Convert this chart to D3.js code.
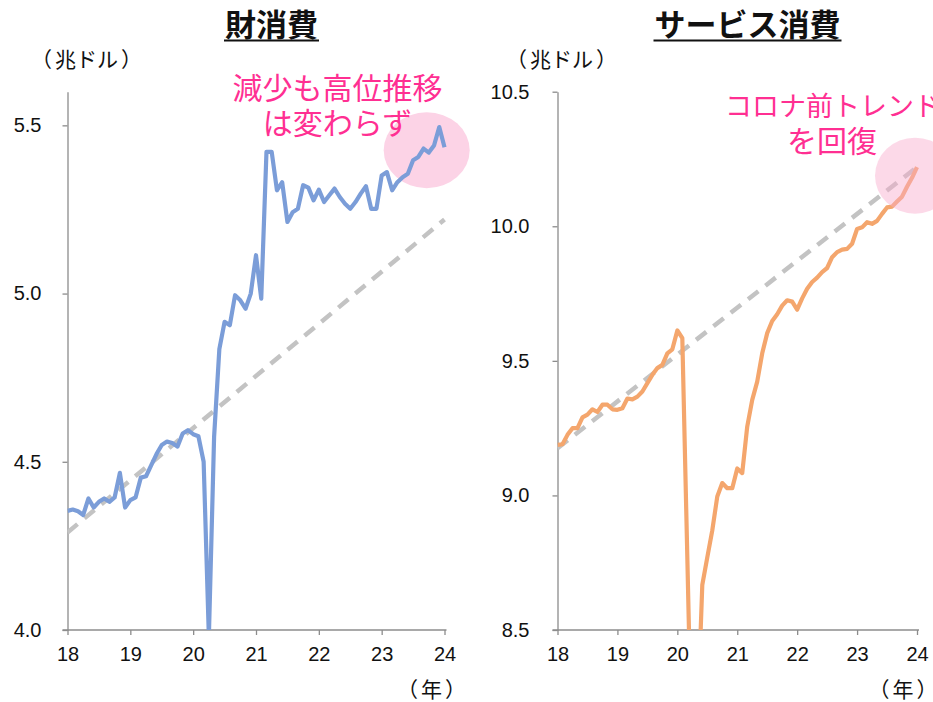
<!DOCTYPE html>
<html lang="ja">
<head>
<meta charset="utf-8">
<script src="https://cdn.jsdelivr.net/npm/d3@7"></script>
<style>
  body { margin: 0; background: #fff; }
  svg { display: block; }
  .jp { font-family: "Noto Sans CJK JP", sans-serif; }
  .num { font-family: "Liberation Sans", Arial, sans-serif; }
</style>
</head>
<body>
<svg id="chart" width="933" height="702" lang="ja"></svg>
<script>
// monthly, Jan 2018 .. Jan 2024 (trillion dollars)
const yearLabels = ["18", "19", "20", "21", "22", "23", "24"];

const goodsValues = [
  4.354, 4.358, 4.353, 4.342, 4.391, 4.364, 4.381, 4.391, 4.381, 4.394, 4.467, 4.364,
  4.386, 4.394, 4.453, 4.457, 4.490, 4.523, 4.550, 4.560, 4.556, 4.545, 4.584, 4.594,
  4.582, 4.576, 4.500, 3.980, 4.575, 4.835, 4.916, 4.906, 4.995, 4.980, 4.955, 5.000,
  5.114, 4.985, 5.421, 5.421, 5.307, 5.331, 5.213, 5.242, 5.252, 5.322, 5.315, 5.277,
  5.309, 5.272, 5.292, 5.312, 5.287, 5.267, 5.252, 5.272, 5.297, 5.319, 5.252, 5.252,
  5.351, 5.361, 5.307, 5.331, 5.346, 5.356, 5.396, 5.406, 5.431, 5.419, 5.440, 5.495,
  5.435
];
const goodsTrend = [4.29, 5.22];   // pre-covid trend, start / end
const goodsTicks = [4.0, 4.5, 5.0, 5.5];

const servicesValues = [
  9.188, 9.190, 9.225, 9.250, 9.250, 9.290, 9.300, 9.320, 9.310, 9.337, 9.337, 9.320,
  9.318, 9.324, 9.360, 9.357, 9.367, 9.386, 9.417, 9.448, 9.473, 9.485, 9.528, 9.543,
  9.613, 9.584, 8.770, 7.950, 8.150, 8.668, 8.770, 8.870, 8.996, 9.046, 9.027, 9.027,
  9.100, 9.083, 9.256, 9.355, 9.423, 9.528, 9.603, 9.648, 9.673, 9.705, 9.725, 9.720,
  9.690, 9.732, 9.768, 9.793, 9.809, 9.830, 9.845, 9.885, 9.904, 9.913, 9.916, 9.935,
  9.990, 9.996, 10.015, 10.009, 10.020, 10.046, 10.070, 10.073, 10.092, 10.110, 10.147, 10.180,
  10.220
];
const servicesTrend = [9.175, 10.22];
const servicesTicks = [8.5, 9.0, 9.5, 10.0, 10.5];

const svg = d3.select("#chart");
const pink = "#ff2f92";

// bracketed label: opening / body / closing, with a little extra room round the brackets
function bracketText(x, y, size, body, gap) {
  const t = svg.append("text").attr("class", "jp")
     .attr("x", x).attr("y", y).attr("text-anchor", "middle")
     .attr("font-size", size).attr("fill", "#111");
  t.append("tspan").text("（");
  t.append("tspan").attr("dx", gap).text(body);
  t.append("tspan").attr("dx", gap).text("）");
}

function drawPanel(p) {
  const x = d3.scaleLinear().domain([0, 72]).range(p.xRange);
  const y = d3.scaleLinear().domain(p.yDomain).range([630, 91.7]);
  const g = svg.append("g");

  // clip to plot area
  const clipId = "clip-" + p.id;
  svg.append("clipPath").attr("id", clipId)
     .append("rect")
     .attr("x", p.xRange[0]).attr("y", y(p.yDomain[1]) - 10)
     .attr("width", p.xRange[1] - p.xRange[0] + 10)
     .attr("height", y(p.yDomain[0]) - y(p.yDomain[1]) + 10);

  const underLayer = g.append("g");

  // x axis
  const xAxis = g.append("g").attr("transform", "translate(0,630)")
      .call(d3.axisBottom(x).tickValues(d3.range(0, 73, 12))
              .tickFormat((d, i) => yearLabels[i])
              .tickSize(5).tickSizeOuter(0).tickPadding(12));
  xAxis.select(".domain").remove();
  xAxis.append("line")
      .attr("x1", x(0) - 5).attr("x2", x(72) + 2)
      .attr("stroke", "#8c8c8c").attr("stroke-width", 1.3);
  xAxis.selectAll(".tick line").attr("stroke", "#8c8c8c").attr("stroke-width", 1.3);
  xAxis.selectAll(".tick text").attr("class", "num").attr("font-size", 20).attr("fill", "#111");

  // y axis
  const yAxis = g.append("g").attr("transform", `translate(${x(0)},0)`)
      .call(d3.axisLeft(y).tickValues(p.yTicks).tickFormat(d3.format(".1f"))
              .tickSize(5).tickSizeOuter(0).tickPadding(p.yPad));
  yAxis.select(".domain").attr("stroke", "#8c8c8c").attr("stroke-width", 1.3);
  yAxis.selectAll(".tick line").attr("stroke", "#8c8c8c").attr("stroke-width", 1.3);
  yAxis.selectAll(".tick text").attr("class", "num").attr("font-size", 20).attr("fill", "#111");

  const plot = g.append("g").attr("clip-path", `url(#${clipId})`);

  // trend (dashed)
  plot.append("path")
      .datum(p.trend)
      .attr("fill", "none")
      .attr("stroke", "#c3c3c3")
      .attr("stroke-width", 4.5)
      .attr("stroke-dasharray", "13,9")
      .attr("d", d3.line().x((d, i) => x(i * 72)).y(d => y(d)));

  // series
  plot.append("path")
      .datum(p.values)
      .attr("fill", "none")
      .attr("stroke", p.color)
      .attr("stroke-width", 4.2)
      .attr("stroke-linejoin", "round")
      .attr("d", d3.line().x((d, i) => x(i)).y(d => y(d)));

  // highlight circle
  (p.circleOnTop ? g : underLayer).append("ellipse")
     .attr("cx", x(p.circle[0])).attr("cy", y(p.circle[1]))
     .attr("rx", p.circle[2]).attr("ry", p.circle[3])
     .attr("fill", p.circleOnTop ? "rgba(248,170,205,0.45)" : "#fcd3e6");

  // titles and labels
  const title = svg.append("text").attr("class", "jp")
      .attr("x", p.titleX).attr("y", 36)
      .attr("text-anchor", "middle")
      .attr("font-size", 31).attr("font-weight", "bold").attr("fill", "#111")
      .text(p.title);
  const tw = title.node().getComputedTextLength();
  svg.append("line")
     .attr("x1", p.titleX - tw / 2 - 1).attr("x2", p.titleX + tw / 2 + 1)
     .attr("y1", 40.5).attr("y2", 40.5)
     .attr("stroke", "#111").attr("stroke-width", 2);

  bracketText(p.unitX, 67, 21, "兆ドル", 3);
  bracketText(p.yearX, 697, 21, "年", 3);

  p.note.forEach(n => {
    svg.append("text").attr("class", "jp")
       .attr("x", n.x).attr("y", n.y).attr("text-anchor", n.anchor)
       .attr("font-size", n.size).attr("fill", pink).text(n.text);
  });
}

drawPanel({
  id: "goods",
  values: goodsValues, trend: goodsTrend,
  yDomain: [4.0, 5.6], yTicks: goodsTicks, yPad: 21,
  xRange: [67.5, 444.5],
  color: "#7b9dd8",
  circle: [68.6, 5.426, 43, 38], circleOnTop: false,
  title: "財消費", titleX: 271.5, unitX: 86.5, yearX: 431.5,
  note: [
    { text: "減少も高位推移", x: 337.5, y: 99, anchor: "middle", size: 30 },
    { text: "は変わらず", x: 337.5, y: 134, anchor: "middle", size: 30 }
  ]
});

drawPanel({
  id: "services",
  values: servicesValues, trend: servicesTrend,
  yDomain: [8.5, 10.5], yTicks: servicesTicks, yPad: 23,
  xRange: [557.5, 917],
  color: "#f4a66d",
  circle: [71.6, 10.188, 40, 38], circleOnTop: true,
  title: "サービス消費", titleX: 747.5, unitX: 561.5, yearX: 903,
  note: [
    { text: "コロナ前トレンド", x: 725, y: 116, anchor: "start", size: 27 },
    { text: "を回復", x: 832, y: 152, anchor: "middle", size: 30 }
  ]
});
</script>
</body>
</html>
